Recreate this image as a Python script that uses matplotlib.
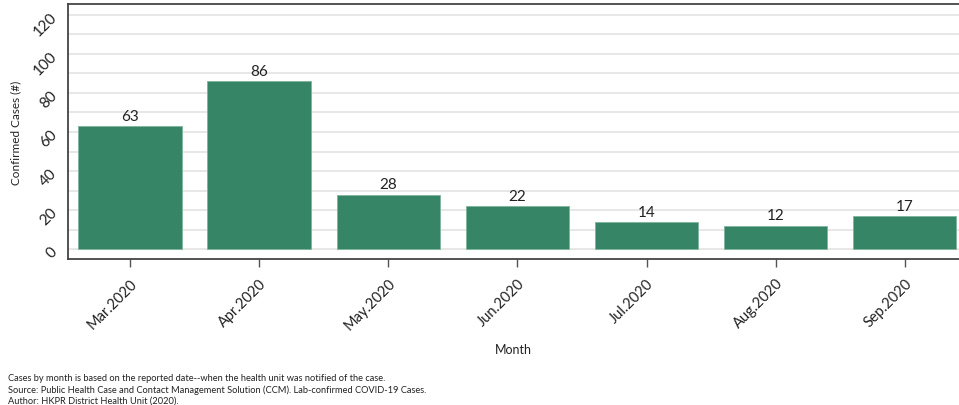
import matplotlib
matplotlib.use("Agg")
import matplotlib.pyplot as plt
import numpy as np

months = ["Mar.2020", "Apr.2020", "May.2020", "Jun.2020", "Jul.2020", "Aug.2020", "Sep.2020"]
cases = [63, 86, 28, 22, 14, 12, 17]
y_ticks = [0, 20, 40, 60, 80, 100, 120]
footnotes = [
    "Cases by month is based on the reported date--when the health unit was notified of the case.",
    "Source: Public Health Case and Contact Management Solution (CCM). Lab-confirmed COVID-19 Cases.",
    "Author: HKPR District Health Unit (2020).",
]

plt.rcParams['font.family'] = ['Lato', 'DejaVu Sans']

W, H = 959, 406
fig = plt.figure(figsize=(W / 100, H / 100), dpi=100)
ax = fig.add_axes([68 / W, 1 - 260 / H, 1 - 68 / W, (260 - 5) / H])

x = np.arange(len(months))
bars = ax.bar(x, cases, width=0.8, color="#358566", edgecolor="#7fb59c", linewidth=0.6, zorder=3)
for xi, v in zip(x, cases):
    ax.text(xi, v + 1.7, str(v), ha="center", va="bottom", fontsize=11, color="#222222", zorder=4)

ax.set_xlim(-0.48, 6.42)
ax.set_ylim(-5, 125.5)
ax.set_yticks(np.arange(0, 121, 10), minor=True)
ax.set_yticks(y_ticks)
ax.set_yticklabels([str(t) for t in y_ticks], rotation=45, fontsize=11, color="#222222")
ax.grid(axis="y", which="both", color="#e3e3e3", linewidth=1.2, zorder=0)
ax.tick_params(axis="y", which="both", length=0, pad=6)
ax.set_xticks(x)
ax.set_xticklabels(months, rotation=45, ha="right", rotation_mode="anchor", fontsize=10.5, color="#222222")
ax.tick_params(axis="x", length=6, width=1, color="#555555", pad=6)

for s in ["left", "bottom", "top"]:
    ax.spines[s].set_color("#444444")
    ax.spines[s].set_linewidth(1.3)
ax.spines["right"].set_visible(False)

ax.set_xlabel("Month", fontsize=9, color="#222222", labelpad=8)
ax.set_ylabel("Confirmed Cases (#)", fontsize=8.5, color="#222222", labelpad=4)
ax.yaxis.set_label_coords(-47 / (W - 68), 0.5)

for i, t in enumerate(footnotes):
    fig.text(8 / W, 1 - (379 + 11 * i) / H, t, fontsize=6.7, color="#222222", va="center", ha="left")

fig.savefig("out.png", dpi=100)
